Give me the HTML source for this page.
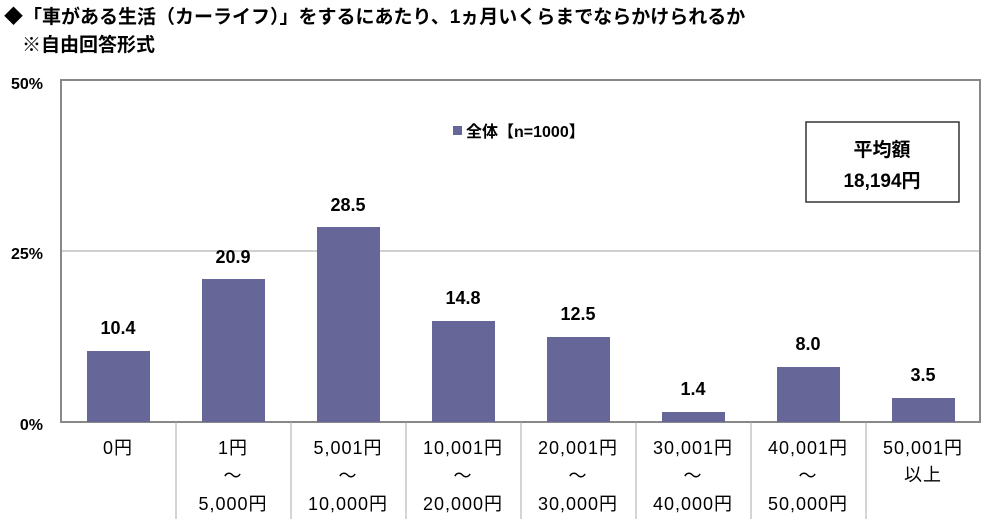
<!DOCTYPE html>
<html><head><meta charset="utf-8"><style>
body{margin:0;background:#fff;}
svg text{font-family:"Liberation Sans","Noto Sans CJK JP",sans-serif;}
</style></head><body>
<svg width="1000" height="519" xmlns="http://www.w3.org/2000/svg">
<rect width="1000" height="519" fill="#fff"/>
<text x="4" y="23" font-size="19" font-weight="bold">◆「車がある生活（カーライフ）」をするにあたり、1ヵ月いくらまでならかけられるか</text>
<text x="22" y="51" font-size="19" font-weight="bold">※自由回答形式</text>
<g font-size="16" font-weight="bold" text-anchor="end">
<text x="43" y="89">50%</text>
<text x="43" y="259">25%</text>
<text x="43" y="430">0%</text>
</g>
<line x1="61" y1="251" x2="980" y2="251" stroke="#a0a0a0" stroke-width="1"/>
<rect x="61" y="80" width="919" height="342" fill="none" stroke="#888" stroke-width="2"/>
<g stroke="#aaa" stroke-width="1">
<line x1="176" y1="422" x2="176" y2="519"/><line x1="291" y1="422" x2="291" y2="519"/>
<line x1="406" y1="422" x2="406" y2="519"/><line x1="521" y1="422" x2="521" y2="519"/>
<line x1="636" y1="422" x2="636" y2="519"/><line x1="751" y1="422" x2="751" y2="519"/>
<line x1="866" y1="422" x2="866" y2="519"/>
</g>
<g fill="#666699">
<rect x="87" y="351" width="63" height="71"/>
<rect x="202" y="279" width="63" height="143"/>
<rect x="317" y="227" width="63" height="195"/>
<rect x="432" y="321" width="63" height="101"/>
<rect x="547" y="337" width="63" height="85"/>
<rect x="662" y="412" width="63" height="10"/>
<rect x="777" y="367" width="63" height="55"/>
<rect x="892" y="398" width="63" height="24"/>
</g>
<g font-size="18" font-weight="bold" text-anchor="middle">
<text x="118" y="334">10.4</text><text x="233" y="263">20.9</text>
<text x="348" y="211">28.5</text><text x="463" y="304">14.8</text>
<text x="578" y="320">12.5</text><text x="693" y="395">1.4</text>
<text x="808" y="350">8.0</text><text x="923" y="381">3.5</text>
</g>
<g font-size="18" text-anchor="middle" letter-spacing="1">
<text x="118" y="454">0円</text>
<text x="233" y="454">1円</text><text x="233" y="482">～</text><text x="233" y="510">5,000円</text>
<text x="348" y="454">5,001円</text><text x="348" y="482">～</text><text x="348" y="510">10,000円</text>
<text x="463" y="454">10,001円</text><text x="463" y="482">～</text><text x="463" y="510">20,000円</text>
<text x="578" y="454">20,001円</text><text x="578" y="482">～</text><text x="578" y="510">30,000円</text>
<text x="693" y="454">30,001円</text><text x="693" y="482">～</text><text x="693" y="510">40,000円</text>
<text x="808" y="454">40,001円</text><text x="808" y="482">～</text><text x="808" y="510">50,000円</text>
<text x="923" y="454">50,001円</text><text x="923" y="481">以上</text>
</g>
<rect x="453" y="126" width="9" height="9" fill="#666699"/>
<text x="466" y="137" font-size="16" font-weight="bold">全体【n=1000】</text>
<rect x="806" y="122" width="153" height="80" fill="#fff" stroke="#333" stroke-width="1.5"/>
<text x="882" y="156" font-size="19" font-weight="bold" text-anchor="middle">平均額</text>
<text x="882" y="187" font-size="19" font-weight="bold" text-anchor="middle">18,194円</text>
</svg>
</body></html>
